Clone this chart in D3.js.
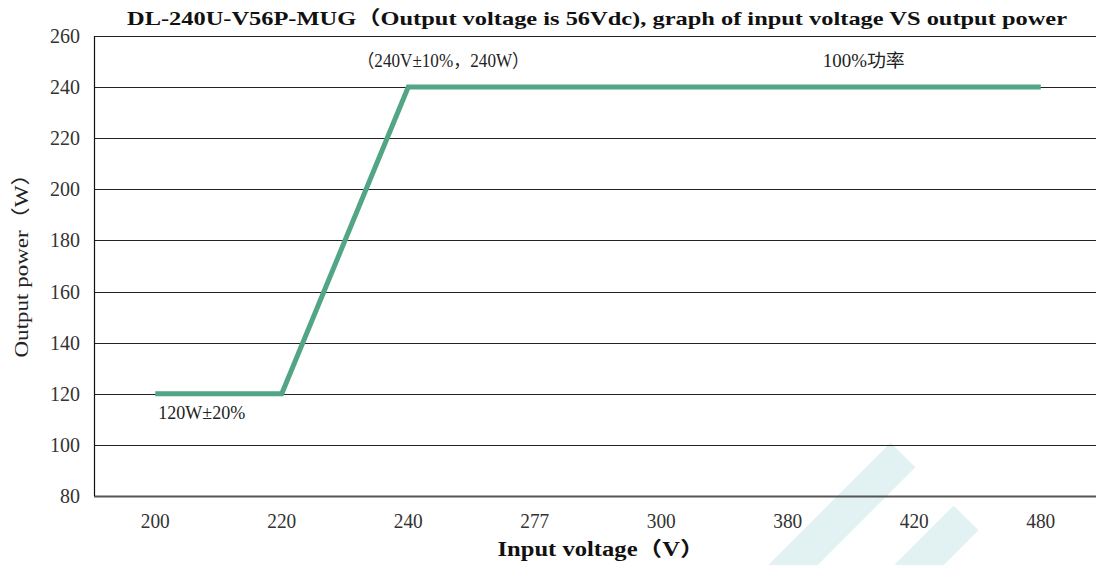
<!DOCTYPE html>
<html>
<head>
<meta charset="utf-8">
<script src="https://cdn.jsdelivr.net/npm/d3@7"></script>
<style>
html,body{margin:0;padding:0;background:#fff;}
svg{display:block;}
</style>
</head>
<body>
<svg id="chart" width="1096" height="565"></svg>
<script>
const categories = ["200", "220", "240", "277", "300", "380", "420", "480"];
const outputPower = [120, 120, 240, 240, 240, 240, 240, 240];
const yTicks = [80, 100, 120, 140, 160, 180, 200, 220, 240, 260];
const titleText = "DL-240U-V56P-MUG（Output voltage is 56Vdc), graph of input voltage VS output power";
const xTitle = "Input voltage（V）";
const yTitle = "Output power（W）";
const annoTexts = ["（240V±10%，240W）", "100%功率", "120W±20%"];
const annoCats = ["240", "380", "200"];
const annoValues = [240, 240, 120];

(function () {
const svg = d3.select("#chart");
const W = 1096, H = 565;
const mLeft = 94, mTop = 36, mBottom = 496;
const serif = "'Liberation Serif', 'Noto Sans CJK SC', serif";

const x = d3.scaleBand().domain(categories).range([92, 1104]).padding(0);
const y = d3.scaleLinear().domain([80, 260]).range([mBottom, mTop]);
const cx = c => x(c) + x.bandwidth() / 2;

// watermark stripes (decorative)
const wm = svg.append("g").attr("stroke", "#e2f1f1").attr("stroke-width", 35)
  .attr("stroke-linecap", "butt").attr("stroke-linejoin", "round");
wm.append("line").attr("x1", 903).attr("y1", 455).attr("x2", 753).attr("y2", 605);
wm.append("line").attr("x1", 966).attr("y1", 518).attr("x2", 856).attr("y2", 628);

// gridlines
svg.append("g").selectAll("line").data(yTicks).join("line")
  .attr("x1", mLeft).attr("x2", W)
  .attr("y1", d => Math.round(y(d)) + 0.5).attr("y2", d => Math.round(y(d)) + 0.5)
  .attr("stroke", d => d === 80 ? "#555" : "#222")
  .attr("stroke-width", d => d === 80 ? 2 : 1.2);

// left axis line
svg.append("line").attr("x1", mLeft + 0.5).attr("x2", mLeft + 0.5).attr("y1", mTop).attr("y2", mBottom)
  .attr("stroke", "#111").attr("stroke-width", 1.2);

// y tick labels
svg.append("g").selectAll("text").data(yTicks).join("text")
  .attr("x", 80).attr("y", d => y(d) + 7)
  .attr("text-anchor", "end")
  .attr("font-family", serif).attr("font-size", 21)
  .attr("textLength", d => String(d).length * 10).attr("lengthAdjust", "spacingAndGlyphs")
  .attr("fill", "#333")
  .text(d => d);

// x tick labels
svg.append("g").selectAll("text").data(categories).join("text")
  .attr("x", d => cx(d)).attr("y", 528)
  .attr("text-anchor", "middle")
  .attr("font-family", serif).attr("font-size", 21)
  .attr("textLength", 29).attr("lengthAdjust", "spacingAndGlyphs")
  .attr("fill", "#333")
  .text(d => d);

// data line
const data = categories.map((c, i) => ({ c, v: outputPower[i] }));
svg.append("path").datum(data)
  .attr("fill", "none").attr("stroke", "#52a585").attr("stroke-width", 5)
  .attr("stroke-linejoin", "miter")
  .attr("d", d3.line().x(d => cx(d.c)).y(d => y(d.v)));

// annotations
const annoDx = [35, 76, 3];
const annoDy = [-20, -20, 25];
const annoAnchor = ["middle", "middle", "start"];
const annoLen = [172, 82, 87];
svg.append("g").selectAll("text").data(annoTexts).join("text")
  .attr("x", (d, i) => cx(annoCats[i]) + annoDx[i])
  .attr("y", (d, i) => y(annoValues[i]) + annoDy[i])
  .attr("text-anchor", (d, i) => annoAnchor[i])
  .attr("font-family", serif).attr("font-size", 18)
  .attr("textLength", (d, i) => annoLen[i]).attr("lengthAdjust", "spacingAndGlyphs")
  .attr("fill", "#222")
  .text(d => d);

// title
svg.append("text").attr("x", 597).attr("y", 25).attr("text-anchor", "middle")
  .attr("font-family", serif).attr("font-size", 19).attr("font-weight", "bold")
  .attr("textLength", 940).attr("lengthAdjust", "spacingAndGlyphs")
  .attr("fill", "#111").text(titleText);

// x axis title
svg.append("text").attr("x", 601).attr("y", 556).attr("text-anchor", "middle")
  .attr("font-family", serif).attr("font-size", 20).attr("font-weight", "bold")
  .attr("textLength", 207).attr("lengthAdjust", "spacingAndGlyphs")
  .attr("fill", "#111").text(xTitle);

// y axis title
svg.append("text").attr("transform", "translate(28,260) rotate(-90)").attr("text-anchor", "middle")
  .attr("font-family", serif).attr("font-size", 19)
  .attr("textLength", 195).attr("lengthAdjust", "spacingAndGlyphs")
  .attr("fill", "#222").text(yTitle);
})();
</script>
</body>
</html>
